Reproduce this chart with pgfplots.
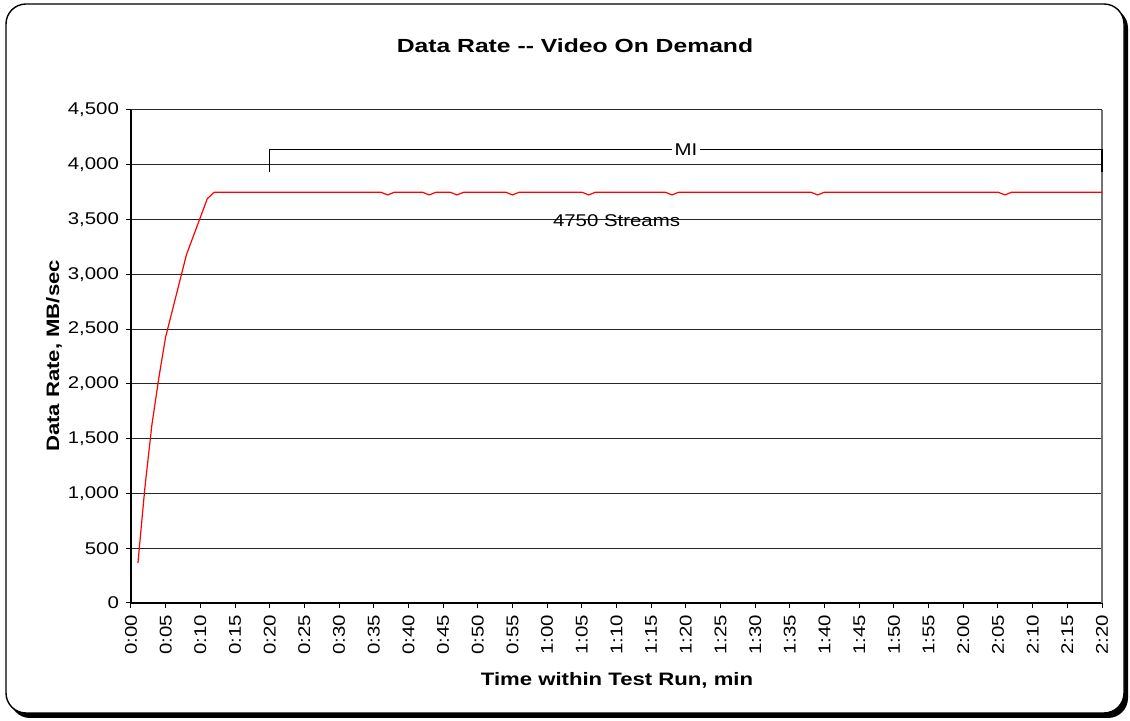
\documentclass[border=0pt]{standalone}
\usepackage{fontspec}
\setmainfont[FakeStretch=1.2]{Liberation Sans}
\newfontfamily\xlabfont[FakeStretch=1.23]{Liberation Sans}
\newfontfamily\titlefont[FakeStretch=1.3]{Liberation Sans}
\usepackage{pgfplots}
\pgfplotsset{compat=1.18}
\begin{document}
\begin{tikzpicture}
\useasboundingbox (-65.5pt,-59pt) rectangle (499.5pt,301.5pt);
% frame with shadow
\fill[black, rounded corners=10pt] (-60.5pt,-57.5pt) rectangle (498.5pt,297.5pt);
\draw[black, line width=0.7pt, fill=white, rounded corners=10pt] (-62.5pt,-55pt) rectangle (496.5pt,299.5pt);
\begin{axis}[
  scale only axis,
  width=485.5pt, height=246.5pt,
  xmin=0, xmax=140, ymin=0, ymax=4500,
  axis x line*=bottom, axis y line*=left,
  axis line style={black, line width=0.6pt},
  xtick={0,5,...,140},
  xticklabels={0:00,0:05,0:10,0:15,0:20,0:25,0:30,0:35,0:40,0:45,0:50,0:55,1:00,1:05,1:10,1:15,1:20,1:25,1:30,1:35,1:40,1:45,1:50,1:55,2:00,2:05,2:10,2:15,2:20},
  ytick={0,500,...,4500},
  tick align=outside,
  major tick length=2.5pt,
  tick style={black, line width=0.5pt},
  ymajorgrids,
  grid style={black!85, line width=0.5pt},
  /pgf/number format/assume math mode=true,
  /pgf/number format/1000 sep={,},
  tick label style={font=\fontsize{8.5}{10}\selectfont},
  xticklabel style={rotate=90, anchor=east},
  clip=false,
]
\draw[black!55, line width=0.6pt] (axis cs:140,0) -- (axis cs:140,4500);
\addplot[red, line width=0.6pt] coordinates {
(1,365) (2,1050) (3,1620) (4,2050) (5,2430) (6,2680) (7,2930) (8,3180) (9,3350) (10,3520) (11,3690) (12,3750)
(36,3750) (37,3725) (38,3750)
(42,3750) (43,3725) (44,3750)
(46,3750) (47,3725) (48,3750)
(54,3750) (55,3725) (56,3750)
(65,3750) (66,3725) (67,3750)
(77,3750) (78,3725) (79,3750)
(98,3750) (99,3725) (100,3750)
(125,3750) (126,3725) (127,3750)
(140,3750)
};
\draw[black, line width=0.6pt] (axis cs:20,3930) -- (axis cs:20,4140) -- (axis cs:140,4140) -- (axis cs:140,3930);
\node[fill=white, inner sep=1.5pt, font=\fontsize{8.5}{10}\selectfont] at (axis cs:80,4140) {MI};
\node[font=\fontsize{8.5}{10}\selectfont] at (axis cs:70,3490) {4750 Streams};
\end{axis}
\node[font=\titlefont\bfseries\fontsize{9.5}{11}\selectfont] at (222pt,278.5pt) {Data Rate {-}{-} Video On Demand};
\node[font=\xlabfont\bfseries\fontsize{9}{11}\selectfont] at (243pt,-38.5pt) {Time within Test Run, min};
\node[font=\xlabfont\bfseries\fontsize{9}{11}\selectfont, rotate=90] at (-38.5pt,123.5pt) {Data Rate, MB/sec};
\end{tikzpicture}
\end{document}
